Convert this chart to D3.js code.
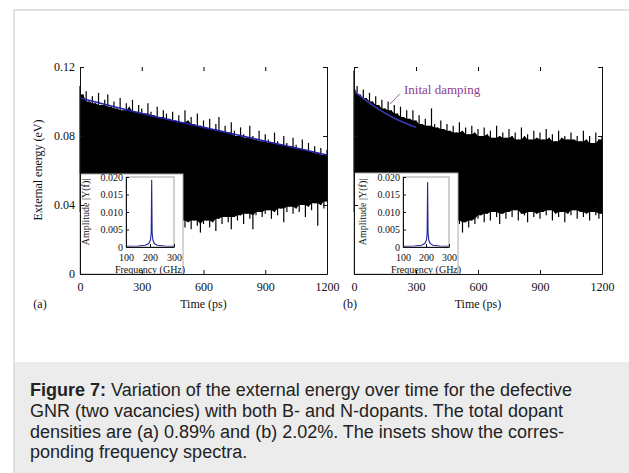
<!DOCTYPE html>
<html>
<head>
<meta charset="utf-8">
<script src="https://cdn.jsdelivr.net/npm/d3@7"></script>
<style>
  body { margin: 0; background: #fff; }
  svg { display: block; }
</style>
</head>
<body>
<svg width="629" height="473"></svg>
<script>
// time axis, sampled every 15 ps
const times = d3.range(0, 1201, 15);
const timeTicks = [0, 300, 600, 900, 1200];
const energyTicks = [0, 0.04, 0.08, 0.12];

// (a) 0.89% - upper and lower envelope of the oscillating external energy (eV)
const topA = [
  0.109, 0.104, 0.106, 0.100, 0.103, 0.099, 0.105, 0.098, 0.101, 0.104,
  0.097, 0.100, 0.096, 0.102, 0.095, 0.099, 0.097, 0.101, 0.094, 0.098,
  0.096, 0.093, 0.099, 0.094, 0.092, 0.097, 0.091, 0.095, 0.093, 0.090,
  0.094, 0.089, 0.092, 0.088, 0.095, 0.089, 0.091, 0.087, 0.093, 0.086,
  0.089, 0.085, 0.090, 0.084, 0.087, 0.091, 0.083, 0.086, 0.082, 0.088,
  0.083, 0.080, 0.085, 0.081, 0.079, 0.086, 0.080, 0.078, 0.083, 0.077,
  0.081, 0.078, 0.076, 0.082, 0.077, 0.075, 0.080, 0.076, 0.074, 0.079,
  0.075, 0.073, 0.078, 0.072, 0.076, 0.071, 0.074, 0.070, 0.073, 0.069, 0.072
];
const botA = [
  0.036, 0.033, 0.035, 0.032, 0.036, 0.034, 0.031, 0.035, 0.033, 0.036,
  0.032, 0.035, 0.033, 0.030, 0.034, 0.032, 0.035, 0.031, 0.033, 0.034,
  0.031, 0.034, 0.032, 0.029, 0.033, 0.031, 0.034, 0.030, 0.032, 0.033,
  0.030, 0.032, 0.028, 0.031, 0.027, 0.030, 0.026, 0.031, 0.028, 0.024,
  0.029, 0.031, 0.027, 0.030, 0.025, 0.032, 0.029, 0.033, 0.030, 0.026,
  0.033, 0.031, 0.034, 0.029, 0.035, 0.032, 0.026, 0.034, 0.036, 0.033,
  0.035, 0.037, 0.032, 0.036, 0.034, 0.038, 0.030, 0.036, 0.039, 0.035,
  0.038, 0.036, 0.040, 0.033, 0.039, 0.037, 0.041, 0.028, 0.040, 0.038, 0.042
];
// (b) 2.02%
const topB = [
  0.118, 0.109, 0.104, 0.107, 0.102, 0.105, 0.100, 0.103, 0.098, 0.101,
  0.096, 0.100, 0.095, 0.098, 0.093, 0.097, 0.091, 0.095, 0.090, 0.095,
  0.089, 0.092, 0.087, 0.090, 0.086, 0.096, 0.087, 0.085, 0.089, 0.084,
  0.087, 0.083, 0.086, 0.082, 0.088, 0.083, 0.085, 0.081, 0.086, 0.082,
  0.084, 0.080, 0.085, 0.081, 0.083, 0.079, 0.086, 0.080, 0.082, 0.079,
  0.084, 0.080, 0.082, 0.078, 0.085, 0.080, 0.081, 0.078, 0.083, 0.079,
  0.082, 0.078, 0.084, 0.079, 0.081, 0.077, 0.083, 0.079, 0.080, 0.078,
  0.082, 0.078, 0.080, 0.077, 0.083, 0.078, 0.080, 0.076, 0.082, 0.078, 0.080
];
const botB = [
  0.036, 0.033, 0.035, 0.032, 0.036, 0.034, 0.031, 0.035, 0.033, 0.036,
  0.032, 0.035, 0.033, 0.030, 0.034, 0.032, 0.035, 0.031, 0.033, 0.034,
  0.031, 0.034, 0.032, 0.029, 0.033, 0.031, 0.034, 0.030, 0.032, 0.033,
  0.030, 0.032, 0.028, 0.031, 0.029, 0.024, 0.030, 0.027, 0.031, 0.029,
  0.032, 0.034, 0.030, 0.035, 0.031, 0.036, 0.033, 0.029, 0.035, 0.032,
  0.036, 0.033, 0.037, 0.031, 0.035, 0.034, 0.030, 0.036, 0.033, 0.035,
  0.032, 0.036, 0.034, 0.037, 0.031, 0.035, 0.033, 0.036, 0.030, 0.035,
  0.034, 0.037, 0.032, 0.036, 0.033, 0.035, 0.031, 0.036, 0.034, 0.032, 0.035
];

// damping fits
const fitTimesA = [0, 300, 600, 900, 1200];
const fitA = [0.102, 0.093, 0.085, 0.077, 0.069];
const fitTimesB = [0, 100, 200, 300];
const fitB = [0.106, 0.097, 0.090, 0.085];

// inset spectra
const freqs = [100, 150, 180, 195, 202, 205, 207, 209, 212, 218, 230, 260, 300];
const ampA = [0.0002, 0.0003, 0.0005, 0.001, 0.002, 0.004, 0.0192, 0.004, 0.002, 0.001, 0.0005, 0.0003, 0.0002];
const ampB = [0.0002, 0.0003, 0.0005, 0.001, 0.002, 0.004, 0.0186, 0.004, 0.002, 0.001, 0.0005, 0.0003, 0.0002];
const freqTicks = [100, 200, 300];
const ampTicks = [0, 0.005, 0.010, 0.015, 0.020];

const serif = "'Liberation Serif', 'Times New Roman', serif";
const svg = d3.select("svg");

// outer frame and caption box
svg.append("rect").attr("x", 14).attr("y", 10).attr("width", 640).attr("height", 500)
  .attr("fill", "#fff").attr("stroke", "#d6d6d6").attr("stroke-width", 1.5);
svg.append("rect").attr("x", 15).attr("y", 362).attr("width", 620).attr("height", 120)
  .attr("fill", "#ececec");

function styleTicks(sel, size) {
  sel.selectAll("text")
    .attr("fill", "#111")
    .attr("font-family", serif)
    .attr("font-size", size);
  sel.selectAll("line, path").attr("stroke", "#111");
}

function drawPanel(p) {
  const x = d3.scaleLinear().domain([0, 1200]).range([p.x0, p.x1]);
  const y = d3.scaleLinear().domain([0, 0.12]).range([274, 67]);
  const g = svg.append("g");

  const band = times.map((t, i) => ({ t: t, lo: p.bot[i], hi: p.top[i] }));
  // solid core of the oscillation: inner envelope of neighbouring samples
  const core = band.map((d, i) => {
    const a = band[Math.max(0, i - 1)], b = band[Math.min(band.length - 1, i + 1)];
    return { t: d.t, lo: Math.max(a.lo, d.lo, b.lo), hi: Math.min(a.hi, d.hi, b.hi) };
  });
  g.append("path")
    .datum(core)
    .attr("fill", "#000")
    .attr("d", d3.area().x(d => x(d.t)).y0(d => y(d.lo)).y1(d => y(d.hi)));
  // individual peaks
  g.selectAll(".peak")
    .data(band)
    .join("line")
    .attr("class", "peak")
    .attr("x1", d => x(d.t)).attr("x2", d => x(d.t))
    .attr("y1", d => y(d.lo)).attr("y2", d => y(d.hi))
    .attr("stroke", "#000")
    .attr("stroke-width", 1.2);

  // fit line
  g.append("path")
    .datum(p.fitT.map((t, i) => [t, p.fit[i]]))
    .attr("fill", "none")
    .attr("stroke", p.fitColor)
    .attr("stroke-width", 1.6)
    .attr("d", d3.line().x(d => x(d[0])).y(d => y(d[1])).curve(d3.curveMonotoneX));

  // inset
  const ib = p.inset;
  g.append("rect").attr("x", p.x0).attr("y", ib.top)
    .attr("width", ib.right - p.x0).attr("height", 274 - ib.top)
    .attr("fill", "#fff").attr("stroke", "#aaa").attr("stroke-width", 1);

  const fx = d3.scaleLinear().domain([100, 300]).range([ib.ax0, ib.ax1]);
  const fy = d3.scaleLinear().domain([0, 0.02]).range([247, 177]);
  const ig = g.append("g").attr("font-family", serif).attr("font-size", 10);

  ig.append("path")
    .datum(freqs.map((f, i) => [f, p.amp[i]]))
    .attr("fill", "none")
    .attr("stroke", "#25259a")
    .attr("stroke-width", 1.1)
    .attr("d", d3.line().x(d => fx(d[0])).y(d => fy(d[1])));

  ig.append("rect").attr("x", ib.ax0).attr("y", 177)
    .attr("width", ib.ax1 - ib.ax0).attr("height", 70)
    .attr("fill", "none").attr("stroke", "#888").attr("stroke-width", 0.8);

  ig.append("g").attr("transform", "translate(0,247)")
    .call(d3.axisBottom(fx).tickValues(freqTicks).tickSize(-3).tickSizeOuter(0).tickPadding(7))
    .call(s => styleTicks(s, 10));
  ig.append("g").attr("transform", `translate(${ib.ax0},0)`)
    .call(d3.axisLeft(fy).tickValues(ampTicks).tickSize(-3).tickSizeOuter(0).tickPadding(3)
      .tickFormat(d => d === 0 ? "0" : d3.format(".3f")(d)))
    .call(s => styleTicks(s, 10));

  ig.append("text")
    .attr("x", (ib.ax0 + ib.ax1) / 2).attr("y", 273)
    .attr("text-anchor", "middle").attr("fill", "#111")
    .text("Frequency (GHz)");
  ig.append("text")
    .attr("transform", `translate(${ib.ax0 - 37},212) rotate(-90)`)
    .attr("text-anchor", "middle").attr("fill", "#111")
    .text("Amplitude |Y(f)|");

  // main axes
  const ag = g.append("g").attr("font-family", serif).attr("font-size", 12);
  ag.append("g").attr("transform", "translate(0,274)")
    .call(d3.axisBottom(x).tickValues(timeTicks).tickSize(-4).tickSizeOuter(0).tickPadding(8)
      .tickFormat(d3.format("d")))
    .call(s => styleTicks(s, 12));
  ag.append("g").attr("transform", "translate(0,67)")
    .call(d3.axisTop(x).tickValues(timeTicks).tickSize(-4).tickSizeOuter(0).tickFormat(""))
    .call(s => s.select(".domain").remove());
  ag.append("g").attr("transform", `translate(${p.x0},0)`)
    .call(d3.axisLeft(y).tickValues(energyTicks).tickSize(-4).tickSizeOuter(0).tickPadding(5)
      .tickFormat(d => p.labels ? (d === 0 ? "0" : d3.format(".2f")(d)) : ""))
    .call(s => styleTicks(s, 12));
  ag.append("g").attr("transform", `translate(${p.x1},0)`)
    .call(d3.axisRight(y).tickValues(energyTicks).tickSize(-4).tickSizeOuter(0).tickFormat(""))
    .call(s => styleTicks(s, 12));

  ag.append("text")
    .attr("x", (p.x0 + p.x1) / 2).attr("y", 308)
    .attr("text-anchor", "middle").attr("fill", "#111")
    .text("Time (ps)");
  ag.append("text")
    .attr("x", p.tagX).attr("y", 308)
    .attr("text-anchor", "middle").attr("fill", "#111")
    .text(p.tag);
  if (p.labels) {
    ag.append("text")
      .attr("transform", "translate(42,170) rotate(-90)")
      .attr("text-anchor", "middle").attr("fill", "#111")
      .text("External energy (eV)");
  }
  return { x: x, y: y };
}

drawPanel({
  x0: 80, x1: 327, top: topA, bot: botA, fitT: fitTimesA, fit: fitA, amp: ampA, fitColor: "#2323a8",
  inset: { top: 174, right: 183, ax0: 126, ax1: 174 }, labels: true, tag: "(a)", tagX: 40
});
const pb = drawPanel({
  x0: 354, x1: 602, top: topB, bot: botB, fitT: fitTimesB, fit: fitB, amp: ampB, fitColor: "#3a3ab0",
  inset: { top: 173, right: 458, ax0: 403, ax1: 449 }, labels: false, tag: "(b)", tagX: 350
});

// annotation for panel (b)
svg.append("line")
  .attr("x1", pb.x(222)).attr("y1", pb.y(0.1045))
  .attr("x2", pb.x(174)).attr("y2", pb.y(0.0985))
  .attr("stroke", "#8e4a8e").attr("stroke-width", 0.9);
svg.append("text")
  .attr("x", pb.x(242)).attr("y", pb.y(0.1045))
  .attr("fill", "#8e3b8e")
  .attr("font-family", serif).attr("font-size", 13)
  .text("Inital damping");

// caption
const caption = [
  ["Figure 7:", " Variation of the external energy over time for the defective"],
  ["", "GNR (two vacancies) with both B- and N-dopants. The total dopant"],
  ["", "densities are (a) 0.89% and (b) 2.02%. The insets show the corres-"],
  ["", "ponding frequency spectra."]
];
const cap = svg.append("text")
  .attr("font-family", "'Liberation Sans', Arial, sans-serif")
  .attr("font-size", 18)
  .attr("fill", "#222");
caption.forEach((line, i) => {
  const row = cap.append("tspan").attr("x", 30).attr("y", 396 + i * 20.8);
  if (line[0]) row.append("tspan").attr("font-weight", "bold").text(line[0]);
  row.append("tspan").text(line[1]);
});
</script>
</body>
</html>
